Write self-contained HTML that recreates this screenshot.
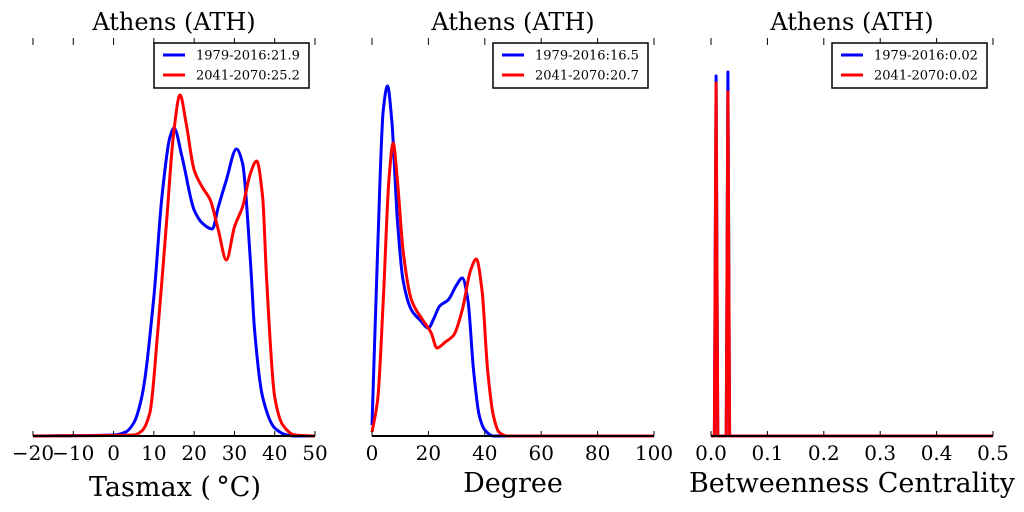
<!DOCTYPE html>
<html><head><meta charset="utf-8"><style>
html,body{margin:0;padding:0;background:#fff;}
svg{display:block;font-family:"DejaVu Serif","Liberation Serif",serif;}
</style></head><body>
<svg id="chart" width="1024" height="512" viewBox="0 0 1024 512" xmlns="http://www.w3.org/2000/svg"></svg>
<script>
// Panel 1: Tasmax
const tasX1 = [-20,0,3,5,7,10,12,14,15,17,20,22,24.5,26,28,30.5,32,34,35,37,40,43,45,50];
const tasY1 = [0,1,4,13,39,139,239,299,308,279,226,213,207,229,256,287,273,173,106,39,8,1,0,0];
const tasX2 = [-20,5,7,9,11,13,15,16.5,18,20,22,24,26,28,30,32,34,35.5,37,38,40,42,45,50];
const tasY2 = [0,1,5,23,106,206,306,341,313,266,249,236,206,176,209,229,263,275,239,156,39,11,1,0];
// Panel 2: Degree
const degX1 = [0,2,4,5.5,7,9,11,14,17,20,22,24,27,30,32,34,36,38,40,43,100];
const degY1 = [11,186,326,350,316,216,156,126,116,108,118,130,136,151,158,136,66,21,6,0,0];
const degX2 = [0,2,4,6,7.5,9,11,14,18,21,23,26,29,32,35,37,39,41,43,45,48,100];
const degY2 = [4,36,136,256,293,256,186,136,116,103,88,94,101,126,166,177,146,66,21,4,0,0];
// Panel 3: Betweenness
const btwX1 = [0,0.006,0.009,0.012,0.027,0.030,0.033,0.5];
const btwY1 = [0,0,360,0,0,364,0,0];
const btwX2 = [0,0.006,0.009,0.012,0.027,0.030,0.033,0.5];
const btwY2 = [0,0,353,0,0,344,0,0];
const ticks1 = [-20,-10,0,10,20,30,40,50];
const tickLabels1 = ["\u221220","\u221210","0","10","20","30","40","50"];
const ticks2 = [0,20,40,60,80,100];
const tickLabels2 = ["0","20","40","60","80","100"];
const ticks3 = [0,0.1,0.2,0.3,0.4,0.5];
const tickLabels3 = ["0.0","0.1","0.2","0.3","0.4","0.5"];
const legend1 = ["1979-2016:21.9","2041-2070:25.2"];
const legend2 = ["1979-2016:16.5","2041-2070:20.7"];
const legend3 = ["1979-2016:0.02","2041-2070:0.02"];

const NS="http://www.w3.org/2000/svg";
const svg=document.getElementById('chart');
function mk(tag,attrs,parent){const e=document.createElementNS(NS,tag);for(const k in attrs)e.setAttribute(k,attrs[k]);(parent||svg).appendChild(e);return e;}
const TOP=40,BOT=436,YMAX=396;
function yS(v){return BOT-v/YMAX*(BOT-TOP);}

function monoPath(pts,linear){
  const n=pts.length;
  let d="M"+pts[0][0].toFixed(2)+","+pts[0][1].toFixed(2);
  if(linear){for(let i=1;i<n;i++)d+="L"+pts[i][0].toFixed(2)+","+pts[i][1].toFixed(2);return d;}
  const dx=[],s=[];
  for(let i=0;i<n-1;i++){dx.push(pts[i+1][0]-pts[i][0]);s.push((pts[i+1][1]-pts[i][1])/dx[i]);}
  const m=[s[0]];
  for(let i=1;i<n-1;i++){
    if(s[i-1]*s[i]<=0)m.push(0);
    else{const w1=2*dx[i]+dx[i-1],w2=dx[i]+2*dx[i-1];m.push((w1+w2)/(w1/s[i-1]+w2/s[i]));}
  }
  m.push(s[n-2]);
  for(let i=0;i<n-1;i++){
    const h=dx[i];
    const c1x=pts[i][0]+h/3,c1y=pts[i][1]+m[i]*h/3;
    const c2x=pts[i+1][0]-h/3,c2y=pts[i+1][1]-m[i+1]*h/3;
    d+="C"+c1x.toFixed(2)+","+c1y.toFixed(2)+" "+c2x.toFixed(2)+","+c2y.toFixed(2)+" "+pts[i+1][0].toFixed(2)+","+pts[i+1][1].toFixed(2);
  }
  return d;
}

function panel(cfg){
  const g=mk('g',{});
  
  
  const xS=v=>cfg.x0+(v-cfg.d0)/(cfg.d1-cfg.d0)*(cfg.x1-cfg.x0);
  const t=mk('text',{x:(cfg.x0+cfg.x1)/2,y:30,'text-anchor':'middle','font-size':24,fill:'#000'},g);
  t.textContent="Athens (ATH)";
  
  
  const series=[[cfg.xa,cfg.ya,'#0000ff','series-1979-2016'],[cfg.xb,cfg.yb,'#ff0000','series-2041-2070']];
  series.forEach(s=>{
    const pts=s[0].map((x,i)=>[xS(x),yS(s[1][i])]);
    const p=mk('path',{d:monoPath(pts,cfg.sharp),fill:'none',stroke:s[2],'stroke-width':3,'stroke-linejoin':'round'},g);
    
    
  });
  const ax=mk('line',{x1:cfg.x0,x2:cfg.x1,y1:BOT,y2:BOT,stroke:'#000','stroke-width':2},g);
  
  
  cfg.ticks.forEach((tv,i)=>{
    const x=xS(tv);
    mk('line',{x1:x,x2:x,y1:TOP-2,y2:TOP+5,stroke:'#000','stroke-width':1},g);
    mk('line',{x1:x,x2:x,y1:BOT-5,y2:BOT,stroke:'#000','stroke-width':1},g);
    const l=mk('text',{x:x,y:460,'text-anchor':'middle','font-size':20,fill:'#000'},g);
    l.textContent=cfg.labels[i];
    
    
  });
  const xt=mk('text',{x:cfg.titleX,y:cfg.titleY,'text-anchor':'middle','font-size':cfg.titleSize,fill:'#000'},g);
  xt.textContent=cfg.xlabel;
  
  
  const lx=cfg.x1-161;
  const lg=mk('g',{},g);
  
  
  mk('rect',{x:lx,y:43,width:155,height:45,fill:'#fff',stroke:'#000','stroke-width':1.5},lg);
  cfg.legend.forEach((txt,i)=>{
    const yy=55+i*20;
    mk('line',{x1:lx+9,x2:lx+31,y1:yy,y2:yy,stroke:i?'#ff0000':'#0000ff','stroke-width':3},lg);
    const tt=mk('text',{x:lx+42,y:yy+4.5,'font-size':13,fill:'#000'},lg);
    tt.textContent=txt;
    
    
  });
}
panel({name:'panel-tasmax',x0:33,x1:315,d0:-20,d1:50,xa:tasX1,ya:tasY1,xb:tasX2,yb:tasY2,ticks:ticks1,labels:tickLabels1,legend:legend1,xlabel:"Tasmax (\u2009\u00b0C)",titleX:175,titleY:496,titleSize:27});
panel({name:'panel-degree',x0:372,x1:654,d0:0,d1:100,xa:degX1,ya:degY1,xb:degX2,yb:degY2,ticks:ticks2,labels:tickLabels2,legend:legend2,xlabel:"Degree",titleX:513,titleY:492,titleSize:27});
panel({name:'panel-betweenness',x0:711,x1:993,d0:0,d1:0.5,xa:btwX1,ya:btwY1,xb:btwX2,yb:btwY2,ticks:ticks3,labels:tickLabels3,legend:legend3,xlabel:"Betweenness Centrality",titleX:852,titleY:492,titleSize:27,sharp:true});
</script>
</body></html>
